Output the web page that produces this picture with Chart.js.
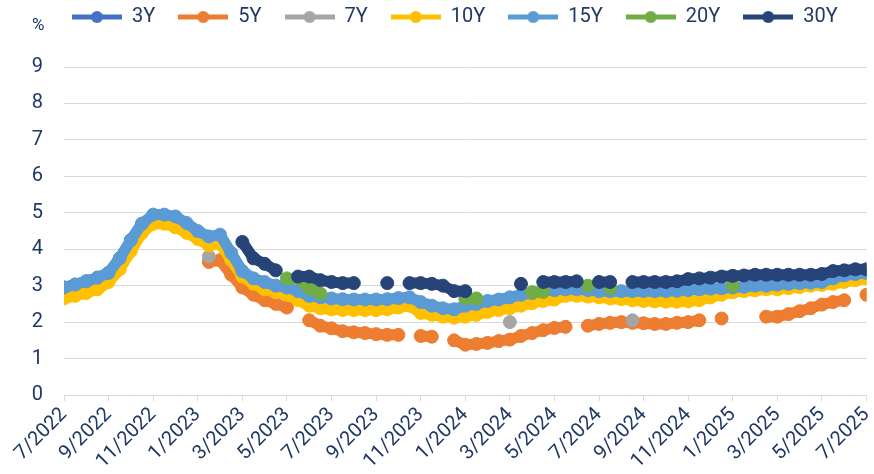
<!DOCTYPE html>
<html>
<head>
<meta charset="utf-8">
<script src="https://cdn.jsdelivr.net/npm/chart.js@4.4.1/dist/chart.umd.min.js"></script>
<style>
  html, body { margin: 0; padding: 0; background: #fff; }
  #wrap { width: 874px; height: 474px; }
</style>
</head>
<body>
<div id="wrap"><canvas id="chart"></canvas></div>
<script>
// Bond yields by tenor, one slot every half month from 7/2022 to 7/2025 (null = no auction)

const TEXT = '#1F3864';
const FONT = 'Roboto, "Liberation Sans", sans-serif';

const tickLabels = ['7/2022', '9/2022', '11/2022', '1/2023', '3/2023', '5/2023', '7/2023', '9/2023', '11/2023',
  '1/2024', '3/2024', '5/2024', '7/2024', '9/2024', '11/2024', '1/2025', '3/2025', '5/2025', '7/2025'];

const tenors = ['3Y', '5Y', '7Y', '10Y', '15Y', '20Y', '30Y'];
const colors = ['#4472C4', '#ED7D31', '#A5A5A5', '#FFC000', '#5B9BD5', '#70AD47', '#264478'];

const y3Y = [
  2.95, 3.03, 3.12, 3.22,
  3.35, 3.75, 4.25, 4.7,
  null, null, null, null,
  null, null, null, null,
  null, null, null, null,
  null, null, null, null,
  null, null, null, null,
  null, null, null, null,
  null, null, null, null,
  null, null, null, null,
  null, null, null, null,
  null, null, null, null,
  null, null, null, null,
  null, null, null, null,
  null, null, null, null,
  null, null, null, null,
  null, null, null, null,
  null, null, null, null,
  null
];

const y5Y = [
  null, null, null, null,
  null, null, null, null,
  null, null, null, null,
  null, 3.65, 3.7, 3.3,
  2.95, 2.75, 2.6, 2.5,
  2.4, null, 2.05, 1.9,
  1.83, 1.75, 1.72, 1.7,
  1.67, 1.65, 1.65, null,
  1.62, 1.6, null, 1.5,
  1.38, 1.4, 1.43, 1.48,
  1.52, 1.62, 1.7, 1.78,
  1.84, 1.87, null, 1.9,
  1.95, 1.98, 2.0, 1.98,
  1.97, 1.95, 1.95, 1.98,
  2.0, 2.05, null, 2.1,
  null, null, null, 2.15,
  2.15, 2.22, 2.3, 2.38,
  2.48, 2.55, 2.6, null,
  2.75
];

const y7Y = [
  null, null, null, null,
  null, null, null, null,
  null, null, null, null,
  null, 3.8, null, 3.78,
  null, null, null, null,
  null, null, null, null,
  null, null, null, null,
  null, null, null, null,
  null, null, null, null,
  null, null, null, null,
  2.0, null, null, null,
  null, null, null, null,
  null, null, null, 2.05,
  null, null, null, null,
  null, null, null, null,
  null, null, null, null,
  null, null, null, null,
  null, null, null, null,
  null
];

const y10Y = [
  2.65, 2.72, 2.8, 2.9,
  3.1, 3.45, 3.95, 4.45,
  4.7, 4.7, 4.6, 4.45,
  4.28, 4.1, 4.15, 3.7,
  3.25, 3.05, 2.9, 2.82,
  2.75, 2.6, 2.45, 2.38,
  2.35, 2.33, 2.33, 2.33,
  2.33, 2.35, 2.4, 2.45,
  2.25, 2.2, 2.15, 2.12,
  2.15, 2.2, 2.28, 2.33,
  2.38, 2.45, 2.52, 2.58,
  2.62, 2.72, 2.72, 2.7,
  2.68, 2.65, 2.63, 2.6,
  2.58, 2.57, 2.56, 2.56,
  2.57, 2.6, 2.68, 2.75,
  2.82, 2.85, 2.87, 2.9,
  2.9, 2.93, 2.96, 3.0,
  3.02, 3.05, 3.1, 3.15,
  3.2
];

const y15Y = [
  2.95, 3.03, 3.12, 3.22,
  3.35, 3.75, 4.25, 4.7,
  4.95, 4.95, 4.9, 4.72,
  4.5, 4.35, 4.4, 3.9,
  3.4, 3.2, 3.1, 3.0,
  2.95, 2.85, 2.72, 2.68,
  2.65, 2.63, 2.62, 2.62,
  2.62, 2.63, 2.66, 2.68,
  2.55, 2.45, 2.38, 2.35,
  2.45, 2.5, 2.58, 2.62,
  2.68, 2.75, 2.8, 2.85,
  2.88, 2.9, 2.9, 2.88,
  2.85, 2.85, 2.85, 2.85,
  2.85, 2.85, 2.85, 2.86,
  2.88, 2.9, 2.92, 2.93,
  2.95, 2.97, 3.0, 3.0,
  3.03, 3.05, 3.07, 3.08,
  3.1, 3.2, 3.28, 3.32,
  3.35
];

const y20Y = [
  null, null, null, null,
  null, null, null, null,
  null, null, null, null,
  null, null, null, null,
  null, null, null, null,
  3.2, 3.2, 2.93, 2.78,
  null, null, null, null,
  null, null, null, null,
  null, null, null, null,
  2.65, 2.65, null, null,
  null, null, 2.82, 2.83,
  null, null, null, 3.0,
  null, 2.93, null, null,
  null, null, null, null,
  null, null, null, null,
  3.0, null, null, null,
  null, null, null, null,
  null, null, null, null,
  null
];

const y30Y = [
  null, null, null, null,
  null, null, null, null,
  null, null, null, null,
  null, null, null, null,
  4.2, 3.75, 3.6, 3.42,
  null, 3.25, 3.25, 3.15,
  3.1, 3.07, 3.07, null,
  null, 3.07, null, 3.07,
  3.07, 3.05, 3.0, 2.85,
  2.85, null, null, null,
  null, 3.05, null, 3.1,
  3.1, 3.1, 3.12, null,
  3.1, 3.1, null, 3.1,
  3.1, 3.1, 3.1, 3.12,
  3.18, 3.2, 3.22, 3.25,
  3.27, 3.28, 3.3, 3.3,
  3.3, 3.3, 3.3, 3.3,
  3.32, 3.4, 3.42, 3.45,
  3.45
];

const seriesValues = [y3Y, y5Y, y7Y, y10Y, y15Y, y20Y, y30Y];

// x position of each slot, in months after 7/2022
const monthIndex = y15Y.map((_, i) => i / 2);

// legend marker: short line with a dot, like the spreadsheet legend
function legendIcon(color) {
  const c = document.createElement('canvas');
  c.width = 50;
  c.height = 14;
  const g = c.getContext('2d');
  g.strokeStyle = color;
  g.lineWidth = 5;
  g.beginPath();
  g.moveTo(0, 7);
  g.lineTo(50, 7);
  g.stroke();
  g.fillStyle = color;
  g.beginPath();
  g.arc(25, 7, 6, 0, Math.PI * 2);
  g.fill();
  return c;
}
const icons = colors.map(legendIcon);

const datasets = tenors.map((name, i) => ({
  label: name,
  data: seriesValues[i].map((v, k) => ({ x: monthIndex[k], y: v })),
  borderColor: colors[i],
  backgroundColor: colors[i],
  borderWidth: 11,
  borderCapStyle: 'round',
  borderJoinStyle: 'round',
  pointRadius: 6.5,
  pointHoverRadius: 6.5,
  pointBorderWidth: 1,
  pointBorderColor: colors[i],
  pointBackgroundColor: colors[i],
  tension: 0,
  spanGaps: false,
  order: tenors.length - i   // later tenors drawn on top
}));

// push the legend to the spreadsheet position and leave room above the plot
const legendPlace = {
  id: 'legendPlace',
  beforeInit(chart) {
    const fit = chart.legend.fit;
    chart.legend.fit = function () {
      fit.call(this);
      this.height = 67;
    };
  },
  afterLayout(chart) {
    chart.legend.left = 49;
    chart.legend.top = -16;
  }
};

// unit label in the top-left corner
const percentLabel = {
  id: 'percentLabel',
  afterDraw(chart) {
    const ctx = chart.ctx;
    ctx.save();
    ctx.font = '17px ' + FONT;
    ctx.fillStyle = TEXT;
    ctx.textBaseline = 'alphabetic';
    ctx.fillText('%', 32, 30);
    ctx.restore();
  }
};

new Chart(document.getElementById('chart'), {
  type: 'line',
  data: { datasets: datasets },
  plugins: [legendPlace, percentLabel],
  options: {
    responsive: true,
    maintainAspectRatio: false,
    animation: false,
    devicePixelRatio: 1,
    layout: { padding: { top: 0, left: 0, right: 3, bottom: 0 } },
    plugins: {
      legend: {
        position: 'top',
        align: 'start',
        labels: {
          color: TEXT,
          font: { family: FONT, size: 20 },
          usePointStyle: true,
          pointStyleWidth: 50,
          padding: 23,
          generateLabels(chart) {
            const items = Chart.defaults.plugins.legend.labels.generateLabels(chart);
            items.forEach(item => { item.pointStyle = icons[item.datasetIndex]; });
            return items;
          },
          sort: (a, b) => a.datasetIndex - b.datasetIndex
        }
      },
      tooltip: { enabled: false }
    },
    scales: {
      x: {
        type: 'linear',
        min: 0,
        max: 36,
        ticks: {
          stepSize: 2,
          autoSkip: false,
          minRotation: 45,
          maxRotation: 45,
          padding: 2,
          color: TEXT,
          font: { family: FONT, size: 20 },
          callback: value => tickLabels[value / 2]
        },
        grid: { drawOnChartArea: false, drawTicks: true, tickLength: 6, color: '#D9D9D9' },
        border: { display: true, color: '#D9D9D9', width: 1 },
        afterFit(scale) {
          scale.height = 79;
          scale.paddingLeft = 0;
          scale.paddingRight = 0;
        }
      },
      y: {
        min: 0,
        max: 9,
        ticks: {
          stepSize: 1,
          padding: 21,
          color: TEXT,
          font: { family: FONT, size: 20 }
        },
        grid: { color: '#D9D9D9', lineWidth: 1, drawTicks: false },
        border: { display: false },
        afterFit(scale) {
          scale.width = 64;
        }
      }
    }
  }
});
</script>
</body>
</html>
